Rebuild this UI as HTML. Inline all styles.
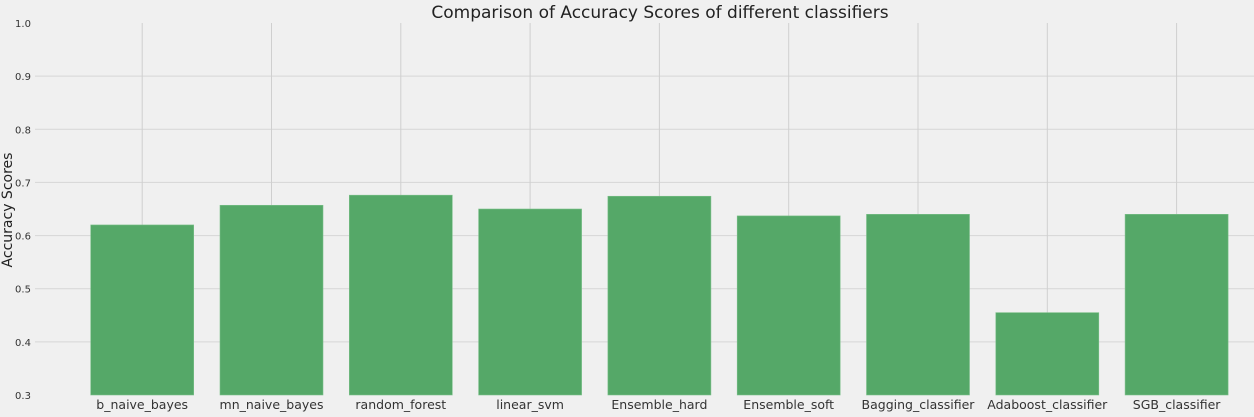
<!DOCTYPE html>
<html><head><meta charset="utf-8"><style>
body{margin:0;background:#f0f0f0;}
svg{display:block;font-family:"DejaVu Sans","Liberation Sans",sans-serif;}
</style></head><body>
<svg id="chart" width="1254" height="417" viewBox="0 0 1254 417" xmlns="http://www.w3.org/2000/svg">
<rect width="1254" height="417" fill="#f0f0f0"/>
<text x="660" y="18" text-anchor="middle" font-size="17" fill="#222">Comparison of Accuracy Scores of different classifiers</text>
<text transform="translate(12,210) rotate(-90)" text-anchor="middle" font-size="14" fill="#222">Accuracy Scores</text>
<g id="grid"></g><g id="bars"></g><g id="labels"></g>
</svg>
<script>
const categories=["b_naive_bayes","mn_naive_bayes","random_forest","linear_svm","Ensemble_hard","Ensemble_soft","Bagging_classifier","Adaboost_classifier","SGB_classifier"];
const scores=[0.620,0.657,0.676,0.650,0.674,0.637,0.640,0.455,0.640];
const yTicks=[0.3,0.4,0.5,0.6,0.7,0.8,0.9,1.0];
const yTickLabels=["0.3","0.4","0.5","0.6","0.7","0.8","0.9","1.0"];
const NS="http://www.w3.org/2000/svg";
const y=v=>395-(v-0.3)/0.7*372;
const step=129.3, x0=142.2;
const x=i=>x0+i*step;
const bw=103;
const grid=document.getElementById('grid'),bars=document.getElementById('bars'),labels=document.getElementById('labels');
function mk(tag,attrs,parent){const e=document.createElementNS(NS,tag);for(const k in attrs)e.setAttribute(k,attrs[k]);parent.appendChild(e);return e;}
yTicks.forEach((t,i)=>{
  if(t<1.0&&t>0.3){const l=mk('line',{x1:35,x2:1254,y1:y(t),y2:y(t),stroke:'#d6d6d6','stroke-width':1},grid);
  
  }
  const tx=mk('text',{x:23,y:y(t)+4,'text-anchor':'middle','font-size':10,fill:'#333'},labels);
  tx.textContent=yTickLabels[i];
  
  
});
categories.forEach((c,i)=>{
  const g=mk('line',{x1:x(i),x2:x(i),y1:y(1.0),y2:395,stroke:'#cfcfcf','stroke-width':1},grid);
  
  
  const r=mk('rect',{x:x(i)-bw/2,y:y(scores[i]),width:bw,height:395-y(scores[i]),fill:'#55a868',stroke:'#7cc08a','stroke-width':0.6},bars);
  
  
  const t=mk('text',{x:x(i),y:409,'text-anchor':'middle','font-size':12.5,fill:'#333'},labels);
  t.textContent=c;
  
  
});
</script>
</body></html>
